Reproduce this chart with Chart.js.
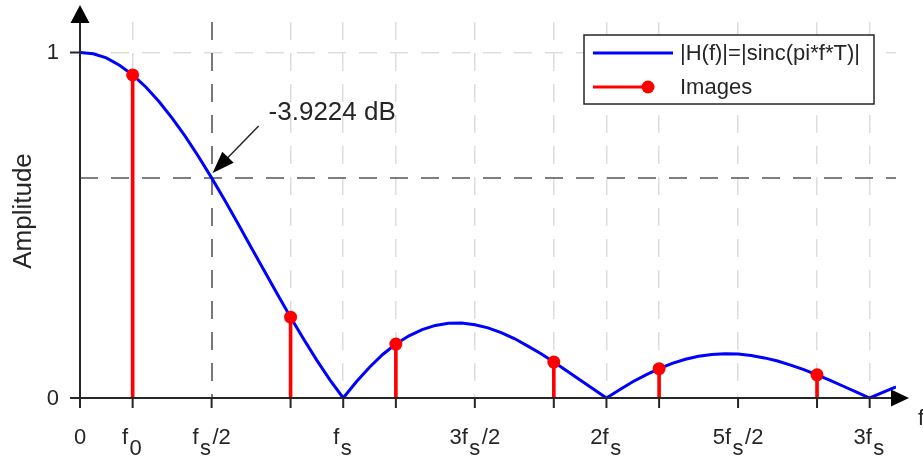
<!DOCTYPE html>
<html>
<head>
<meta charset="utf-8">
<script src="https://cdn.jsdelivr.net/npm/chart.js@4.4.0/dist/chart.umd.min.js"></script>
<style>
  body { margin: 0; background: #fff; }
  #wrap { width: 923px; height: 458px; }
</style>
</head>
<body>
<div id="wrap"><canvas id="chart"></canvas></div>
<script>
// frequency in units of fs, amplitude
const freq = [0, 0.05, 0.1, 0.15, 0.2, 0.25, 0.3, 0.35, 0.4, 0.45, 0.5, 0.55, 0.6, 0.65, 0.7, 0.75,
  0.8, 0.85, 0.9, 0.95, 1, 1.05, 1.1, 1.15, 1.2, 1.25, 1.3, 1.35, 1.4, 1.45, 1.5, 1.55, 1.6, 1.65,
  1.7, 1.75, 1.8, 1.85, 1.9, 1.95, 2, 2.05, 2.1, 2.15, 2.2, 2.25, 2.3, 2.35, 2.4, 2.45, 2.5, 2.55,
  2.6, 2.65, 2.7, 2.75, 2.8, 2.85, 2.9, 2.95, 3, 3.05, 3.1];
const response = [1.000, 0.996, 0.984, 0.963, 0.935, 0.900, 0.858, 0.810, 0.757, 0.699, 0.637,
  0.572, 0.505, 0.436, 0.368, 0.300, 0.234, 0.170, 0.109, 0.052, 0.000, 0.047, 0.089, 0.126,
  0.156, 0.180, 0.198, 0.210, 0.216, 0.217, 0.212, 0.203, 0.189, 0.172, 0.151, 0.129, 0.104,
  0.078, 0.052, 0.026, 0.000, 0.024, 0.047, 0.067, 0.085, 0.100, 0.112, 0.121, 0.126, 0.128,
  0.127, 0.123, 0.116, 0.107, 0.095, 0.082, 0.067, 0.051, 0.034, 0.017, 0.000, 0.016, 0.032];

const imageFreq = [0.2, 0.8, 1.2, 1.8, 2.2, 2.8];
const imageAmp = [0.935, 0.234, 0.156, 0.104, 0.085, 0.067];

const xTickValues = [0, 0.2, 0.5, 0.8, 1, 1.2, 1.5, 1.8, 2, 2.2, 2.5, 2.8, 3];
const xTickLabels = ['0', 'f_0', 'f_s/2', '', 'f_s', '', '3f_s/2', '', '2f_s', '', '5f_s/2', '', '3f_s'];
const yTickValues = [0, 1];
const yTickLabels = ['0', '1'];

const markFreq = 0.5;
const markLevel = 0.6366;
const markText = '-3.9224 dB';
const legendLabels = ['|H(f)|=|sinc(pi*f*T)|', 'Images'];
const xLabel = 'f';
const yLabel = 'Amplitude';

const FONT = "'Liberation Sans', Arial, Helvetica, sans-serif";
const INK = '#262626';
const BLUE = '#0000ff';
const RED = '#ff0000';

// label like "3f_s/2": char after "_" is a subscript
function drawSubLabel(ctx, label, cx, baseline) {
  const parts = [];
  label.split('_').forEach((chunk, i) => {
    if (i === 0) { if (chunk) parts.push({ t: chunk, sub: false }); return; }
    parts.push({ t: chunk[0], sub: true });
    if (chunk.length > 1) parts.push({ t: chunk.slice(1), sub: false });
  });
  const gap = 1.5;
  const widths = parts.map(p => ctx.measureText(p.t).width + (p.sub ? 2 * gap : 0));
  let x = cx - widths.reduce((s, w) => s + w, 0) / 2;
  parts.forEach((p, i) => {
    ctx.fillText(p.t, x + (p.sub ? gap : 0), baseline + (p.sub ? 11 : 0));
    x += widths[i];
  });
}

function arrowHead(ctx, tipX, tipY, dx, dy, len, half) {
  const n = Math.hypot(dx, dy);
  const ux = dx / n, uy = dy / n;
  const bx = tipX - ux * len, by = tipY - uy * len;
  ctx.beginPath();
  ctx.moveTo(tipX, tipY);
  ctx.lineTo(bx - uy * half, by + ux * half);
  ctx.lineTo(bx + uy * half, by - ux * half);
  ctx.closePath();
  ctx.fill();
}

const decorations = {
  id: 'decorations',
  beforeDatasetsDraw(chart) {
    const { ctx, chartArea: a, scales: { x, y } } = chart;
    const px = Math.round(x.getPixelForValue(markFreq));
    const py = Math.round(y.getPixelForValue(markLevel));
    ctx.save();
    ctx.strokeStyle = '#555555';
    ctx.lineWidth = 1.5;
    ctx.setLineDash([18, 13]);
    ctx.beginPath();
    ctx.moveTo(px, a.top);
    ctx.lineTo(px, a.bottom);
    ctx.stroke();
    ctx.beginPath();
    ctx.moveTo(a.left, py);
    ctx.lineTo(a.right, py);
    ctx.stroke();
    ctx.restore();
  },
  afterDraw(chart) {
    const { ctx, chartArea: a, scales: { x, y } } = chart;
    const x0 = x.getPixelForValue(0);
    const y0 = y.getPixelForValue(0);
    ctx.save();

    // axes with arrows
    ctx.strokeStyle = INK;
    ctx.fillStyle = INK;
    ctx.lineWidth = 2;
    ctx.beginPath();
    ctx.moveTo(x0 - 10, y0);
    ctx.lineTo(a.right + 2, y0);
    ctx.moveTo(x0, y0 + 10);
    ctx.lineTo(x0, a.top);
    ctx.stroke();
    ctx.fillStyle = '#000';
    arrowHead(ctx, a.right + 13, y0, 1, 0, 18, 8.5);
    arrowHead(ctx, x0, 5, 0, -1, 18, 9.5);

    // tick marks
    ctx.beginPath();
    xTickValues.forEach(v => {
      const px = x.getPixelForValue(v);
      ctx.moveTo(px, y0);
      ctx.lineTo(px, y0 + 10);
    });
    yTickValues.forEach(v => {
      const py = y.getPixelForValue(v);
      ctx.moveTo(x0 - 10, py);
      ctx.lineTo(x0, py);
    });
    ctx.stroke();

    // tick labels
    ctx.fillStyle = INK;
    ctx.font = '22px ' + FONT;
    ctx.textAlign = 'left';
    ctx.textBaseline = 'alphabetic';
    xTickValues.forEach((v, i) => {
      if (xTickLabels[i]) drawSubLabel(ctx, xTickLabels[i], x.getPixelForValue(v), y0 + 46);
    });
    ctx.textAlign = 'right';
    ctx.textBaseline = 'middle';
    yTickValues.forEach((v, i) => {
      ctx.fillText(yTickLabels[i], x0 - 21, y.getPixelForValue(v) + 1);
    });

    // axis titles
    ctx.textAlign = 'left';
    ctx.textBaseline = 'alphabetic';
    ctx.fillText(xLabel, a.right + 22, y0 + 27);
    ctx.font = '26px ' + FONT;
    ctx.save();
    ctx.translate(31, (a.top + y0) / 2 + 1);
    ctx.rotate(-Math.PI / 2);
    ctx.textAlign = 'center';
    ctx.fillText(yLabel, 0, 0);
    ctx.restore();

    // -3.9 dB annotation
    const tipX = x.getPixelForValue(markFreq) + 1;
    const tipY = y.getPixelForValue(markLevel) - 5;
    ctx.strokeStyle = INK;
    ctx.lineWidth = 1.5;
    ctx.beginPath();
    ctx.moveTo(tipX + 46, tipY - 47);
    ctx.lineTo(tipX + 10, tipY - 10);
    ctx.stroke();
    ctx.fillStyle = '#000';
    arrowHead(ctx, tipX, tipY, -46, 47, 22, 8);
    ctx.fillStyle = INK;
    ctx.fillText(markText, tipX + 56, tipY - 53);

    // legend
    ctx.fillStyle = '#fff';
    ctx.fillRect(584, 35, 290, 69);
    ctx.strokeStyle = INK;
    ctx.lineWidth = 1.5;
    ctx.strokeRect(584, 35, 290, 69);
    ctx.lineWidth = 3;
    ctx.strokeStyle = BLUE;
    ctx.beginPath();
    ctx.moveTo(593, 53);
    ctx.lineTo(673, 53);
    ctx.stroke();
    ctx.strokeStyle = RED;
    ctx.beginPath();
    ctx.moveTo(593, 87);
    ctx.lineTo(648, 87);
    ctx.stroke();
    ctx.fillStyle = RED;
    ctx.beginPath();
    ctx.arc(648, 87, 6.5, 0, Math.PI * 2);
    ctx.fill();
    ctx.fillStyle = INK;
    ctx.font = '22px ' + FONT;
    ctx.textBaseline = 'middle';
    ctx.fillText(legendLabels[0], 680, 54);
    ctx.fillText(legendLabels[1], 680, 88);

    ctx.restore();
  }
};

const curvePoints = freq.map((f, i) => ({ x: f, y: response[i] }));
const imagePoints = imageFreq.map((f, i) => ({ x: f, y: imageAmp[i] }));

new Chart(document.getElementById('chart'), {
  data: {
    datasets: [
      {
        type: 'scatter',
        label: legendLabels[1],
        data: imagePoints,
        showLine: false,
        pointRadius: 6.5,
        pointBackgroundColor: RED,
        pointBorderWidth: 0,
        order: 0
      },
      {
        type: 'bar',
        label: 'stems',
        data: imagePoints,
        backgroundColor: RED,
        barThickness: 3,
        order: 1
      },
      {
        type: 'line',
        label: legendLabels[0],
        data: curvePoints,
        borderColor: BLUE,
        borderWidth: 3,
        pointRadius: 0,
        tension: 0,
        order: 2
      }
    ]
  },
  options: {
    responsive: true,
    maintainAspectRatio: false,
    devicePixelRatio: 1,
    animation: false,
    layout: { padding: { left: 80, right: 27, top: 22, bottom: 60 } },
    plugins: { legend: { display: false }, tooltip: { enabled: false } },
    scales: {
      x: {
        type: 'linear',
        min: 0,
        max: 3.1,
        offset: false,
        afterBuildTicks: s => { s.ticks = xTickValues.map(v => ({ value: v })); },
        ticks: { display: false },
        grid: { color: '#dddddd', lineWidth: 1.5, drawTicks: false, offset: false },
        border: { display: false, dash: [18, 13] }
      },
      y: {
        type: 'linear',
        min: 0,
        max: 1.088,
        afterBuildTicks: s => { s.ticks = yTickValues.map(v => ({ value: v })); },
        ticks: { display: false },
        grid: { color: '#dddddd', lineWidth: 1.5, drawTicks: false },
        border: { display: false, dash: [18, 13] }
      }
    }
  },
  plugins: [decorations]
});
</script>
</body>
</html>
